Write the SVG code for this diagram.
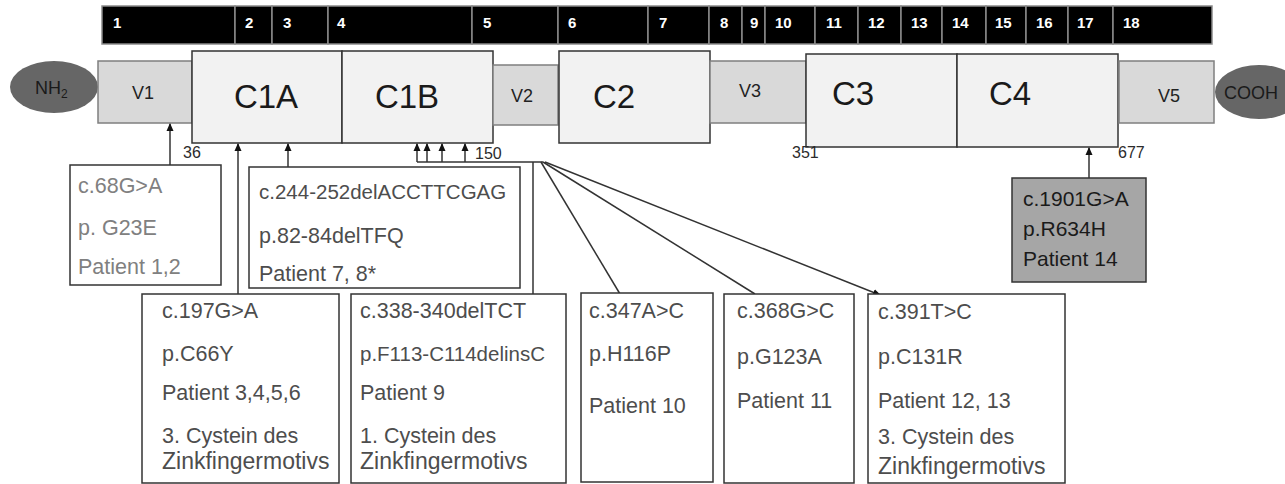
<svg xmlns="http://www.w3.org/2000/svg" width="1285" height="484" viewBox="0 0 1285 484">
<style>
text{font-family:"Liberation Sans",Arial,sans-serif}
.ex{fill:#000;stroke:#8a8a8a;stroke-width:1.5}
.exn{fill:#fff;font-weight:bold;font-size:15px}
.v{fill:#d9d9d9;stroke:#7f7f7f;stroke-width:1.5}
.c{fill:#f2f2f2;stroke:#333;stroke-width:1.5}
.vl{font-size:18px;fill:#222}
.cl{font-size:33px;fill:#1a1a1a}
.term{fill:#666}
.pos{font-size:16px;fill:#2b2b2b}
.box{fill:#fff;stroke:#333;stroke-width:1.5}
.bt{font-size:21.5px;fill:#4d4d4d}
.bt.zk{font-size:23px}
.bt.sm{font-size:20.5px}
.bt2{font-size:21.5px;fill:#808080}
.bt3{font-size:21px;fill:#1a1a1a}
.ln{stroke:#333;stroke-width:1.5;fill:none}
</style>
<defs>
<marker id="ah" markerWidth="8" markerHeight="8" refX="7" refY="4" orient="auto" markerUnits="userSpaceOnUse">
<path d="M0,0.5 L8,4 L0,7.5 Z" fill="#111"/>
</marker>
</defs>

<g id="exons">
<rect class="ex" x="102" y="6" width="133" height="38"/><text class="exn" x="113" y="28">1</text>
<rect class="ex" x="235" y="6" width="37" height="38"/><text class="exn" x="245" y="28">2</text>
<rect class="ex" x="272" y="6" width="56" height="38"/><text class="exn" x="283" y="28">3</text>
<rect class="ex" x="328" y="6" width="144" height="38"/><text class="exn" x="337" y="28">4</text>
<rect class="ex" x="472" y="6" width="86" height="38"/><text class="exn" x="483" y="28">5</text>
<rect class="ex" x="558" y="6" width="90" height="38"/><text class="exn" x="568" y="28">6</text>
<rect class="ex" x="648" y="6" width="61" height="38"/><text class="exn" x="659" y="28">7</text>
<rect class="ex" x="709" y="6" width="33" height="38"/><text class="exn" x="720" y="28">8</text>
<rect class="ex" x="742" y="6" width="23" height="38"/><text class="exn" x="750" y="28">9</text>
<rect class="ex" x="765" y="6" width="50" height="38"/><text class="exn" x="775" y="28">10</text>
<rect class="ex" x="815" y="6" width="43" height="38"/><text class="exn" x="826" y="28">11</text>
<rect class="ex" x="858" y="6" width="43" height="38"/><text class="exn" x="868" y="28">12</text>
<rect class="ex" x="901" y="6" width="41" height="38"/><text class="exn" x="911" y="28">13</text>
<rect class="ex" x="942" y="6" width="44" height="38"/><text class="exn" x="952" y="28">14</text>
<rect class="ex" x="986" y="6" width="40" height="38"/><text class="exn" x="995" y="28">15</text>
<rect class="ex" x="1026" y="6" width="42" height="38"/><text class="exn" x="1036" y="28">16</text>
<rect class="ex" x="1068" y="6" width="45" height="38"/><text class="exn" x="1077" y="28">17</text>
<rect class="ex" x="1113" y="6" width="99" height="38"/><text class="exn" x="1123" y="28">18</text>
</g>

<g id="nh2">
<ellipse class="term" cx="54" cy="87" rx="44" ry="26"/>
<text x="35" y="94" font-size="18" fill="#1a1a1a">NH<tspan font-size="12" dy="4">2</tspan></text>
</g>
<g id="v1"><rect class="v" x="98" y="61" width="94" height="62"/><text class="vl" x="143" y="99" text-anchor="middle">V1</text></g>
<g id="c1a"><rect class="c" x="192" y="51" width="150" height="92"/><text class="cl" x="266" y="108" text-anchor="middle">C1A</text></g>
<g id="c1b"><rect class="c" x="342" y="51" width="151" height="92"/><text class="cl" x="407" y="108" text-anchor="middle">C1B</text></g>
<g id="v2"><rect class="v" x="493" y="65" width="65" height="60"/><text class="vl" x="522" y="102" text-anchor="middle">V2</text></g>
<g id="c2"><rect class="c" x="559" y="51" width="151" height="92"/><text class="cl" x="614" y="108" text-anchor="middle">C2</text></g>
<g id="v3"><rect class="v" x="710" y="61" width="96" height="62"/><text class="vl" x="750" y="97" text-anchor="middle">V3</text></g>
<g id="c3"><rect class="c" x="806" y="54" width="151" height="93"/><text class="cl" x="853" y="105" text-anchor="middle">C3</text></g>
<g id="c4"><rect class="c" x="957" y="54" width="161" height="93"/><text class="cl" x="1010" y="105" text-anchor="middle">C4</text></g>
<g id="v5"><rect class="v" x="1119" y="61" width="95" height="62"/><text class="vl" x="1169" y="102" text-anchor="middle">V5</text></g>
<g id="cooh">
<ellipse class="term" cx="1259" cy="92" rx="44" ry="27"/>
<text x="1224" y="99" font-size="18" fill="#1a1a1a">COOH</text>
</g>

<g id="positions">
<text class="pos" x="183" y="158">36</text>
<text class="pos" x="475" y="159" fill="#34476a">150</text>
<text class="pos" x="792" y="158">351</text>
<text class="pos" x="1118" y="158" fill="#3d5a80">677</text>
</g>

<g id="connectors">
<line class="ln" x1="170" y1="165" x2="170" y2="124" marker-end="url(#ah)"/>
<line class="ln" x1="238" y1="294" x2="238" y2="144" marker-end="url(#ah)"/>
<line class="ln" x1="288" y1="167" x2="288" y2="144" marker-end="url(#ah)"/>
<line class="ln" x1="417" y1="162" x2="417" y2="144" marker-end="url(#ah)"/>
<line class="ln" x1="427" y1="162" x2="427" y2="144" marker-end="url(#ah)"/>
<line class="ln" x1="442" y1="162" x2="442" y2="144" marker-end="url(#ah)"/>
<line class="ln" x1="465" y1="162" x2="465" y2="144" marker-end="url(#ah)"/>
<line class="ln" x1="417" y1="162" x2="543" y2="162"/>
<line class="ln" x1="533" y1="162" x2="533" y2="294"/>
<line class="ln" x1="541" y1="162" x2="620" y2="294"/>
<line class="ln" x1="543" y1="162" x2="755" y2="294"/>
<line class="ln" x1="545" y1="162" x2="880" y2="295" marker-end="url(#ah)"/>
<line class="ln" x1="1089" y1="178" x2="1089" y2="148" marker-end="url(#ah)"/>
</g>

<g id="m1">
<rect class="box" x="70" y="165" width="151" height="120"/>
<text class="bt2" x="78" y="193">c.68G&gt;A</text>
<text class="bt2" x="78" y="235">p. G23E</text>
<text class="bt2" x="78" y="274">Patient 1,2</text>
</g>
<g id="m2">
<rect class="box" x="249" y="167" width="271" height="121"/>
<text class="bt sm" x="259" y="199">c.244-252delACCTTCGAG</text>
<text class="bt" x="259" y="243">p.82-84delTFQ</text>
<text class="bt" x="259" y="281">Patient 7, 8*</text>
</g>
<g id="m3">
<rect class="box" x="142" y="294" width="197" height="189"/>
<text class="bt" x="162" y="318">c.197G&gt;A</text>
<text class="bt" x="162" y="361">p.C66Y</text>
<text class="bt" x="162" y="400">Patient 3,4,5,6</text>
<text class="bt" x="162" y="443">3. Cystein des</text>
<text class="bt zk" x="162" y="469">Zinkfingermotivs</text>
</g>
<g id="m4">
<rect class="box" x="351" y="294" width="215" height="189"/>
<text class="bt" x="360" y="318">c.338-340delTCT</text>
<text class="bt sm" x="360" y="361">p.F113-C114delinsC</text>
<text class="bt" x="360" y="400">Patient 9</text>
<text class="bt" x="360" y="443">1. Cystein des</text>
<text class="bt zk" x="360" y="469">Zinkfingermotivs</text>
</g>
<g id="m5">
<rect class="box" x="581" y="293" width="132" height="189"/>
<text class="bt" x="589" y="318">c.347A&gt;C</text>
<text class="bt" x="589" y="361">p.H116P</text>
<text class="bt" x="589" y="413">Patient 10</text>
</g>
<g id="m6">
<rect class="box" x="724" y="294" width="130" height="189"/>
<text class="bt" x="737" y="318">c.368G&gt;C</text>
<text class="bt" x="737" y="364">p.G123A</text>
<text class="bt" x="737" y="408">Patient 11</text>
</g>
<g id="m7">
<rect class="box" x="868" y="294" width="197" height="189"/>
<text class="bt" x="878" y="319">c.391T&gt;C</text>
<text class="bt" x="878" y="364">p.C131R</text>
<text class="bt" x="878" y="408">Patient 12, 13</text>
<text class="bt" x="878" y="444">3. Cystein des</text>
<text class="bt zk" x="878" y="474">Zinkfingermotivs</text>
</g>
<g id="m8">
<rect x="1012" y="178" width="134" height="104" fill="#a6a6a6" stroke="#333" stroke-width="1.5"/>
<text class="bt3" x="1023" y="206">c.1901G&gt;A</text>
<text class="bt3" x="1023" y="236">p.R634H</text>
<text class="bt3" x="1023" y="266">Patient 14</text>
</g>
</svg>
